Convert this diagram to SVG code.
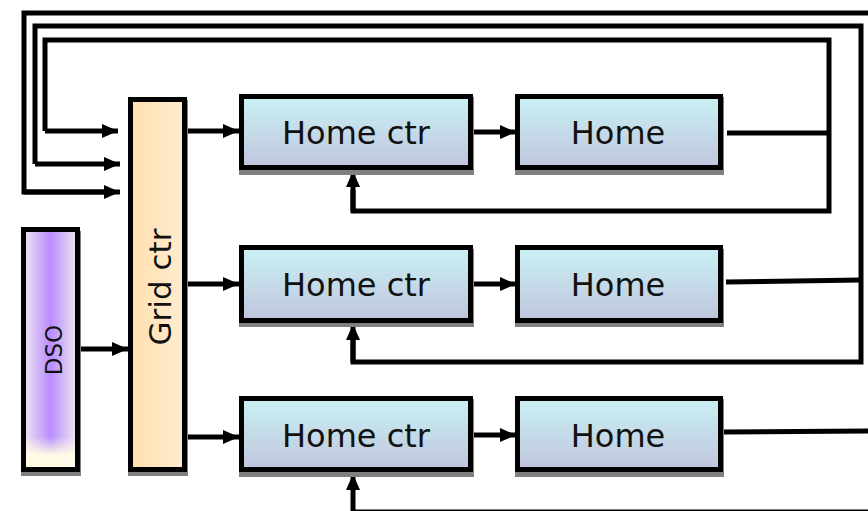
<svg xmlns="http://www.w3.org/2000/svg" width="868" height="511" viewBox="0 0 868 511">
<defs>
<linearGradient id="gHome" x1="0" y1="0" x2="0" y2="1">
<stop offset="0" stop-color="#c9f1f5"/>
<stop offset="1" stop-color="#c0c5dc"/>
</linearGradient>
<linearGradient id="gGrid" x1="0" y1="0" x2="1" y2="0">
<stop offset="0" stop-color="#ffdfae"/>
<stop offset="1" stop-color="#ffedd0"/>
</linearGradient>
<linearGradient id="gDso" x1="0" y1="0" x2="1" y2="0">
<stop offset="0" stop-color="#efe8ef"/>
<stop offset="0.5" stop-color="#b88cff"/>
<stop offset="1" stop-color="#efe8ef"/>
</linearGradient>
<linearGradient id="gDsoB" x1="0" y1="0" x2="0" y2="1">
<stop offset="0" stop-color="#fffbe6" stop-opacity="0"/>
<stop offset="0.87" stop-color="#fffbe6" stop-opacity="0"/>
<stop offset="0.95" stop-color="#fffbe6" stop-opacity="1"/>
<stop offset="1" stop-color="#fffbe6" stop-opacity="1"/>
</linearGradient>
<marker id="ah" markerUnits="userSpaceOnUse" markerWidth="18" markerHeight="16" refX="16" refY="7" orient="auto">
<path d="M0,0 L16,7 L0,14 z" fill="#000"/>
</marker>
</defs>
<style>
.box{stroke:#000;stroke-width:5}
.sh{fill:#808080}
.home{fill:url(#gHome)}
.lbl{font-family:"DejaVu Sans",Verdana,sans-serif;font-size:32px;fill:#111;text-anchor:middle}
.c{fill:none;stroke:#000;stroke-width:5}
.a{marker-end:url(#ah)}
</style>

<g id="connectors">
<polyline class="c" points="868,13 24,13 24,192 104,192"/>
<polyline class="c a" points="24,192 120,192"/>
<polyline class="c" points="35,164 35,26 861,26 861,362 353,362 353,338"/>
<polyline class="c a" points="35,164 120,164"/>
<polyline class="c a" points="353,362 353,324"/>
<polyline class="c" points="726,282 861,280"/>
<polyline class="c" points="45,131 45,40 829,40 829,211 353,211 353,190"/>
<polyline class="c a" points="45,131 118,131"/>
<polyline class="c a" points="353,211 353,171"/>
<polyline class="c" points="727,133 829,133"/>
<polyline class="c" points="724,432 868,431"/>
<polyline class="c" points="353,512 868,512"/>
<polyline class="c a" points="353,512 353,474"/>
<polyline class="c a" points="80,349 128,349"/>
<polyline class="c a" points="187,131 239,131"/>
<polyline class="c a" points="187,284 239,284"/>
<polyline class="c a" points="187,437 239,437"/>
<polyline class="c a" points="472,132 516,132"/>
<polyline class="c a" points="472,284 516,284"/>
<polyline class="c a" points="472,435 516,435"/>
</g>

<g id="dso">
<rect class="sh" x="21" y="231" width="60" height="245"/>
<rect class="box" x="23.5" y="229.5" width="54" height="240" fill="url(#gDso)"/>
<rect x="26" y="232" width="49" height="235" fill="url(#gDsoB)"/>
<text class="lbl" style="font-size:23px" transform="translate(62,350) rotate(-90)">DSO</text>
</g>

<g id="grid-ctr">
<rect class="sh" x="128" y="100" width="60" height="376"/>
<rect class="box" x="130.5" y="99.5" width="54" height="370" fill="url(#gGrid)"/>
<text class="lbl" style="font-size:31px" transform="translate(171,287) rotate(-90)">Grid ctr</text>
</g>

<g id="home-ctr-1">
<rect class="sh" x="239" y="97" width="235" height="78"/>
<rect class="box home" x="241.5" y="96.5" width="229" height="71"/>
<text class="lbl" x="356" y="144">Home ctr</text>
</g>
<g id="home-1">
<rect class="sh" x="515" y="97" width="209" height="78"/>
<rect class="box home" x="517.5" y="96.5" width="203" height="71"/>
<text class="lbl" x="618" y="144">Home</text>
</g>

<g id="home-ctr-2">
<rect class="sh" x="239" y="249" width="235" height="78"/>
<rect class="box home" x="241.5" y="247.5" width="229" height="73"/>
<text class="lbl" x="356" y="296">Home ctr</text>
</g>
<g id="home-2">
<rect class="sh" x="515" y="249" width="209" height="78"/>
<rect class="box home" x="517.5" y="247.5" width="203" height="73"/>
<text class="lbl" x="618" y="296">Home</text>
</g>

<g id="home-ctr-3">
<rect class="sh" x="239" y="399" width="235" height="78"/>
<rect class="box home" x="241.5" y="398.5" width="229" height="71"/>
<text class="lbl" x="356" y="447">Home ctr</text>
</g>
<g id="home-3">
<rect class="sh" x="515" y="399" width="209" height="78"/>
<rect class="box home" x="517.5" y="398.5" width="203" height="71"/>
<text class="lbl" x="618" y="447">Home</text>
</g>
</svg>
